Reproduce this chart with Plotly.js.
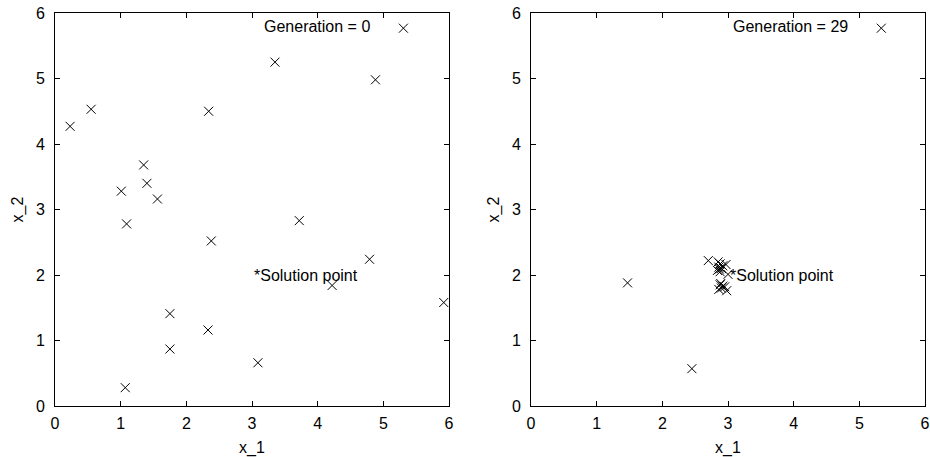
<!DOCTYPE html>
<html>
<head>
<meta charset="utf-8">
<script src="https://cdn.plot.ly/plotly-3.0.1.min.js"></script>
<style>html,body{margin:0;padding:0;background:#fff;}#chart{width:930px;height:457px;}</style>
</head>
<body>
<div id="chart"></div>
<script>
// Generation 0 population
const gen0X = [3.35, 4.88, 0.23, 0.55, 2.34, 1.35, 1.40, 1.01, 1.56, 1.09, 3.72, 2.38, 4.79, 4.22, 5.92, 1.75, 2.33, 1.75, 3.09, 1.07];
const gen0Y = [5.25, 4.98, 4.27, 4.53, 4.50, 3.68, 3.40, 3.28, 3.16, 2.78, 2.83, 2.52, 2.24, 1.84, 1.58, 1.41, 1.16, 0.87, 0.66, 0.28];
// Generation 29 population
const gen29X = [1.47, 2.45, 2.70, 2.85, 2.88, 2.86, 2.90, 2.84, 2.88, 2.97, 3.00, 2.92, 2.87, 2.88, 2.92, 2.90, 2.86, 2.95, 2.98, 2.89];
const gen29Y = [1.88, 0.57, 2.22, 2.20, 2.17, 2.12, 2.10, 2.07, 2.05, 2.16, 2.01, 2.14, 2.09, 1.85, 1.83, 1.80, 1.78, 1.82, 1.76, 1.87];
// Labels
const keyLabels = ["Generation = 0", "Generation = 29"];
const solutionX = 3;
const solutionY = 2;
const solutionLabel = "*Solution point";
const xTitle = "x_1";
const yTitle = "x_2";
const tickVals = [0, 1, 2, 3, 4, 5, 6];

const FONT = "Liberation Sans, Arial, Helvetica, sans-serif";
const FS = 16;
const marker = {symbol: "x-thin-open", size: 9, color: "#000", line: {color: "#000", width: 1}};

const traces = [
  {x: gen0X, y: gen0Y, type: "scatter", mode: "markers", name: "", marker: marker,
   xaxis: "x", yaxis: "y", legend: "legend", hoverinfo: "x+y"},
  {x: gen29X, y: gen29Y, type: "scatter", mode: "markers", name: "", marker: marker,
   xaxis: "x2", yaxis: "y2", legend: "legend2", hoverinfo: "x+y"}
];

function axis(domain, anchor, title, isY) {
  return {
    domain: domain, anchor: anchor, range: [0, 6], tickvals: tickVals,
    showline: true, linecolor: "#000", linewidth: 1, mirror: "ticks",
    ticks: "inside", ticklen: 5, tickcolor: "#000", tickwidth: 1,
    showgrid: false, zeroline: false, automargin: false,
    tickfont: {family: FONT, size: FS, color: "#000"},
    ticklabelstandoff: isY ? 6 : 3,
    title: {text: title, font: {family: FONT, size: FS, color: "#000"}, standoff: isY ? 8 : 10},
    fixedrange: true
  };
}

const yDom = [51 / 457, 444 / 457];
const legendCommon = {
  bgcolor: "rgba(0,0,0,0)", borderwidth: 0,
  font: {family: FONT, size: FS, color: "#000"},
  xanchor: "left", yanchor: "middle", itemwidth: 40, tracegroupgap: 0
};

const layout = {
  width: 930, height: 457,
  margin: {l: 0, r: 0, t: 0, b: 0},
  paper_bgcolor: "#fff", plot_bgcolor: "#fff",
  font: {family: FONT, size: FS, color: "#000"},
  xaxis: axis([55 / 930, 449 / 930], "y", xTitle, false),
  yaxis: axis(yDom, "x", yTitle, true),
  xaxis2: axis([531 / 930, 925 / 930], "y2", xTitle, false),
  yaxis2: axis(yDom, "x2", yTitle, true),
  showlegend: true,
  legend: Object.assign({}, legendCommon, {
    x: 262 / 930, y: 1 - 28.3 / 457,
    title: {text: keyLabels[0], side: "left", font: {family: FONT, size: FS, color: "#000"}}
  }),
  legend2: Object.assign({}, legendCommon, {
    x: 731 / 930, y: 1 - 28.3 / 457,
    title: {text: keyLabels[1], side: "left", font: {family: FONT, size: FS, color: "#000"}}
  }),
  annotations: [
    {x: solutionX, y: solutionY, xref: "x", yref: "y", text: solutionLabel, showarrow: false,
     xanchor: "left", yanchor: "middle", font: {family: FONT, size: FS, color: "#000"}},
    {x: solutionX, y: solutionY, xref: "x2", yref: "y2", text: solutionLabel, showarrow: false,
     xanchor: "left", yanchor: "middle", font: {family: FONT, size: FS, color: "#000"}}
  ]
};

Plotly.newPlot("chart", traces, layout, {displayModeBar: false, staticPlot: true});
</script>
</body>
</html>
